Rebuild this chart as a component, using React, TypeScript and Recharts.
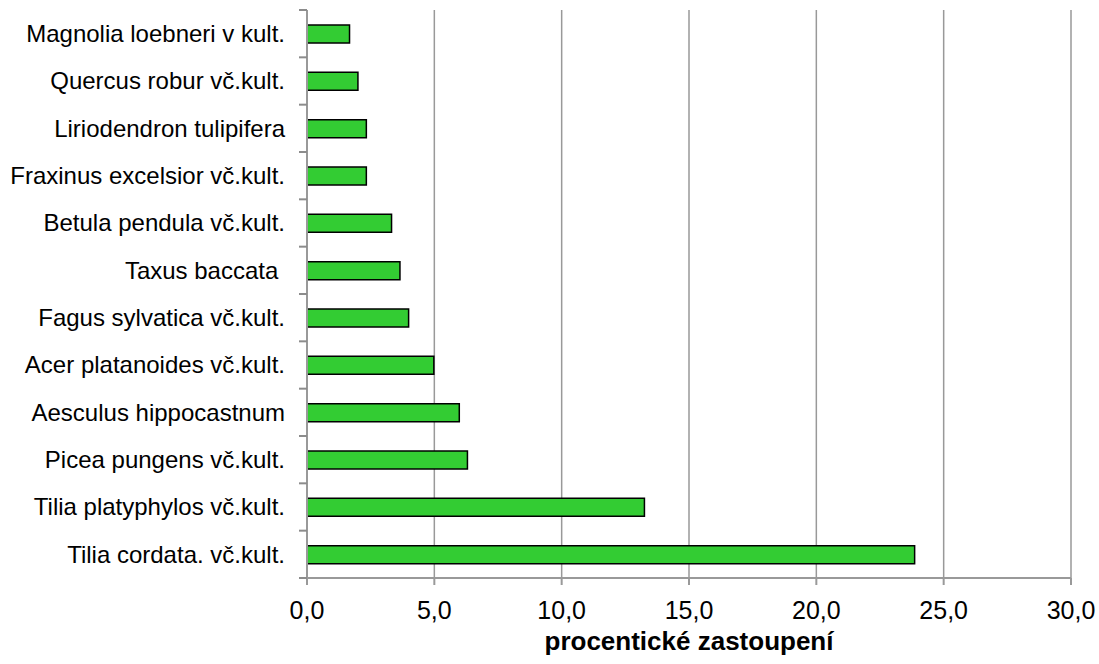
import React from "react";
import { BarChart, Bar, XAxis, YAxis, CartesianGrid, Label } from "recharts";

const species = [
  "Magnolia loebneri v kult.",
  "Quercus robur vč.kult.",
  "Liriodendron tulipifera",
  "Fraxinus excelsior vč.kult.",
  "Betula pendula vč.kult.",
  "Taxus baccata ",
  "Fagus sylvatica vč.kult.",
  "Acer platanoides vč.kult.",
  "Aesculus hippocastnum",
  "Picea pungens vč.kult.",
  "Tilia platyphylos vč.kult.",
  "Tilia cordata. vč.kult.",
];

const shares = [1.67, 2.0, 2.33, 2.33, 3.32, 3.65, 3.99, 4.98, 5.98, 6.3, 13.25, 23.86];

const xTicks = [0, 5, 10, 15, 20, 25, 30];

const data = species.map((name, i) => ({ name, value: shares[i] }));

const W = 1099;
const H = 664;
const MARGIN = { top: 10, right: 28, bottom: 0, left: 0 };
const Y_WIDTH = 307;
const X_HEIGHT = 86;
const LABEL_GAP = 22;
const TICK_LEN = 8;
const FONT = '"Liberation Sans", Arial, sans-serif';
const AXIS_GREY = "#999999";

const fmt = (v: number) => v.toFixed(1).replace(".", ",");

// label at band centre, tick marks on the band borders (like the original)
const SpeciesTick = (props: any) => {
  const { x, y, payload, index } = props;
  const half = payload.offset;
  const axisX = Number(x) + LABEL_GAP;
  const yTop = Number(y) - half;
  const yBot = Number(y) + half;
  return (
    <g>
      <rect x={axisX - TICK_LEN} y={yTop - 1} width={TICK_LEN} height={2} fill="#8c8c8c" />
      {index === species.length - 1 && (
        <rect x={axisX - TICK_LEN} y={yBot - 1} width={TICK_LEN} height={2} fill="#8c8c8c" />
      )}
      <text
        x={x}
        y={y}
        dy="0.35em"
        textAnchor="end"
        fill="#000"
        fontSize={24}
        fontFamily={FONT}
        style={{ whiteSpace: "pre" }}
      >
        {payload.value}
      </text>
    </g>
  );
};

export default function App() {
  return (
    <div style={{ position: "absolute", left: 0, top: 0, width: W, height: H, background: "#fff" }}>
      <BarChart width={W} height={H} data={data} layout="vertical" margin={MARGIN} barCategoryGap={0}>
        <CartesianGrid horizontal={false} stroke={AXIS_GREY} strokeWidth={1.5} />
        <XAxis
          type="number"
          domain={[0, 30]}
          ticks={xTicks}
          tickFormatter={fmt}
          height={X_HEIGHT}
          stroke={AXIS_GREY}
          strokeWidth={2}
          tickSize={7}
          tickMargin={16}
          tick={{ fill: "#000", fontSize: 25, fontFamily: FONT }}
        >
          <Label
            value="procentické zastoupení"
            position="insideBottom"
            offset={14}
            fill="#000"
            fontSize={26}
            fontWeight="bold"
            fontFamily={FONT}
          />
        </XAxis>
        <YAxis
          type="category"
          dataKey="name"
          width={Y_WIDTH}
          stroke={AXIS_GREY}
          strokeWidth={2}
          tickLine={false}
          tickSize={0}
          tickMargin={LABEL_GAP}
          interval={0}
          tick={<SpeciesTick />}
        />
        <Bar dataKey="value" fill="#33CC33" stroke="#000" strokeWidth={1.5} barSize={18} isAnimationActive={false} />
      </BarChart>
    </div>
  );
}
